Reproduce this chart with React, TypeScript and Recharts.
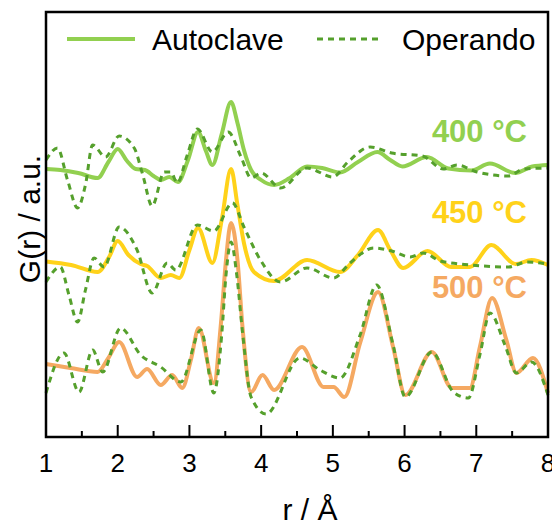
import { LineChart, Line, XAxis, YAxis } from "recharts";

// G(r) traces, arbitrary units; each pair shares a vertical offset
const r400Auto = [1.0, 1.2, 1.45, 1.72, 1.87, 2.0, 2.13, 2.25, 2.38, 2.5, 2.6, 2.72, 2.84, 2.98, 3.12, 3.23, 3.32, 3.45, 3.58, 3.67, 3.76, 3.86, 4.0, 4.18, 4.4, 4.64, 4.85, 5.1, 5.35, 5.62, 5.8, 5.97, 6.31, 6.61, 6.93, 7.19, 7.54, 7.78, 8.0];
const g400Auto = [0.1, 0.0, -0.3, -0.8, 0.8, 2.1, 0.9, 0.1, 0.0, -0.6, -1.0, -0.7, -1.2, 1.0, 3.8, 1.9, 0.5, 3.6, 6.8, 4.7, 2.0, 0.0, -1.0, -1.5, -0.8, 0.35, 0.2, -0.25, 0.8, 1.8, 1.0, 0.35, 1.3, 0.15, -0.05, 0.65, -0.3, 0.35, 0.5];

const r400Oper = [1.0, 1.16, 1.3, 1.44, 1.55, 1.65, 1.83, 2.02, 2.23, 2.35, 2.48, 2.65, 2.74, 2.83, 2.97, 3.11, 3.32, 3.54, 3.72, 3.86, 4.0, 4.27, 4.64, 5.0, 5.21, 5.52, 5.82, 6.25, 6.54, 6.73, 7.01, 7.45, 7.66, 8.0];
const g400Oper = [1.0, 2.2, -1.0, -3.8, -1.5, 2.5, 1.3, 3.4, 2.2, -0.5, -3.6, -0.2, -0.2, -1.3, 1.5, 4.1, 1.8, 3.8, 1.3, -0.8, -0.3, -1.8, 0.2, -0.7, 0.8, 2.3, 1.7, 1.4, 0.1, 0.5, -0.2, -0.6, 0.1, 0.2];

const r450Auto = [1.0, 1.35, 1.72, 1.88, 2.0, 2.15, 2.32, 2.41, 2.6, 2.74, 2.86, 3.0, 3.12, 3.32, 3.45, 3.58, 3.67, 3.76, 3.9, 4.18, 4.64, 5.1, 5.35, 5.63, 5.8, 5.98, 6.32, 6.65, 6.91, 7.21, 7.55, 7.77, 8.0];
const g450Auto = [0.35, 0.0, -0.7, 0.8, 2.4, 1.0, 0.1, -0.1, -1.3, -1.0, -1.3, 1.5, 3.7, 0.2, 4.5, 9.6, 6.0, 2.2, -0.7, -1.6, 0.5, -0.7, 1.0, 3.5, 1.5, -0.3, 1.4, -0.2, -0.2, 2.0, 0.1, 0.5, 0.0];

const r450Oper = [1.0, 1.2, 1.32, 1.44, 1.55, 1.67, 1.81, 2.02, 2.27, 2.48, 2.69, 2.81, 3.11, 3.34, 3.6, 3.76, 3.99, 4.27, 4.64, 5.01, 5.24, 5.57, 5.82, 6.08, 6.26, 6.5, 6.93, 7.45, 7.7, 8.0];
const g450Oper = [-1.7, -0.2, -3.0, -5.7, -2.5, 0.7, -0.2, 3.8, 1.5, -2.8, 0.2, -0.5, 4.0, 3.4, 6.2, 3.8, 0.5, -1.7, -0.3, -1.3, 0.2, 1.7, 1.4, 0.8, 1.2, 0.4, 0.0, -0.2, 0.3, 0.1];

const r500Auto = [1.0, 1.34, 1.72, 1.87, 2.02, 2.27, 2.41, 2.6, 2.76, 2.9, 3.02, 3.13, 3.34, 3.44, 3.51, 3.58, 3.67, 3.74, 3.86, 4.02, 4.18, 4.57, 4.87, 5.01, 5.16, 5.38, 5.63, 5.84, 6.01, 6.38, 6.66, 6.91, 7.05, 7.22, 7.42, 7.56, 7.79, 8.0];
const g500Auto = [0.6, 0.2, -0.2, 1.2, 2.8, -0.7, 0.1, -1.5, -0.5, -1.8, 1.0, 4.2, -1.3, 4.7, 11.0, 14.7, 11.0, 4.3, -2.2, -0.5, -2.0, 2.3, -1.7, -1.7, -2.7, 2.7, 7.8, 2.3, -2.5, 1.8, -1.8, -1.8, 2.3, 7.2, 3.0, -0.3, 1.2, -2.3];

const r500Oper = [1.0, 1.25, 1.46, 1.65, 1.79, 2.04, 2.32, 2.6, 2.88, 3.16, 3.34, 3.45, 3.51, 3.58, 3.66, 3.74, 3.86, 4.07, 4.54, 4.82, 5.1, 5.38, 5.61, 5.84, 6.01, 6.38, 6.68, 6.89, 7.05, 7.19, 7.4, 7.56, 7.77, 8.0];
const g500Oper = [-2.3, 1.7, -2.2, 2.0, -0.2, 4.2, 1.5, 0.3, -1.2, 4.0, -2.3, 3.5, 9.5, 12.8, 9.5, 3.8, -2.7, -4.4, 1.2, 0.0, -0.8, 3.5, 8.5, 2.5, -2.7, 1.8, -2.2, -2.8, 1.5, 5.7, 2.5, -0.3, 0.8, -2.5];

const offset400 = 26.7;
const offset450 = 17.2;
const offset500 = 6.7;

const xTicks = [1, 1.5, 2, 2.5, 3, 3.5, 4, 4.5, 5, 5.5, 6, 6.5, 7, 7.5, 8];
const tempLabels = ["400 °C", "450 °C", "500 °C"];
const legendNames = ["Autoclave", "Operando"];

const C400 = "#92d050";
const C450 = "#ffd21a";
const C500 = "#f5a962";
const COPER = "#55a02c";
const FONT = "'Liberation Sans', Arial, sans-serif";

function pts(r: number[], g: number[], offset: number) {
  return r.map((x, i) => ({ r: x, g: g[i] + offset }));
}

function RTick(props: any) {
  const { x, y, payload } = props;
  const major = Number.isInteger(payload.value);
  return (
    <g>
      <line x1={x} x2={x} y1={y} y2={y - (major ? 12 : 6)} stroke="#000" strokeWidth={2} />
      {major && (
        <text x={x} y={y + 35} textAnchor="middle" fontSize={26} fontFamily={FONT} fill="#000">
          {payload.value}
        </text>
      )}
    </g>
  );
}

export default function App() {
  return (
    <div style={{ position: "relative", width: 552, height: 517 }}>
      <LineChart width={552} height={517} margin={{ top: 4, right: 12, left: 38, bottom: 0 }}>
        <XAxis
          dataKey="r"
          type="number"
          domain={[1, 8]}
          ticks={xTicks}
          interval={0}
          tickSize={0}
          tickMargin={0}
          tickLine={false}
          axisLine={false}
          height={88}
          tick={<RTick />}
        />
        <YAxis type="number" domain={[0, 42.5]} hide />
        <Line data={pts(r400Auto, g400Auto, offset400)} dataKey="g" type="monotone" stroke={C400} strokeWidth={4} dot={false} isAnimationActive={false} />
        <Line data={pts(r400Oper, g400Oper, offset400)} dataKey="g" type="monotone" stroke={COPER} strokeWidth={3} strokeDasharray="6 5" dot={false} isAnimationActive={false} />
        <Line data={pts(r450Auto, g450Auto, offset450)} dataKey="g" type="monotone" stroke={C450} strokeWidth={4} dot={false} isAnimationActive={false} />
        <Line data={pts(r450Oper, g450Oper, offset450)} dataKey="g" type="monotone" stroke={COPER} strokeWidth={3} strokeDasharray="6 5" dot={false} isAnimationActive={false} />
        <Line data={pts(r500Auto, g500Auto, offset500)} dataKey="g" type="monotone" stroke={C500} strokeWidth={4} dot={false} isAnimationActive={false} />
        <Line data={pts(r500Oper, g500Oper, offset500)} dataKey="g" type="monotone" stroke={COPER} strokeWidth={3} strokeDasharray="6 5" dot={false} isAnimationActive={false} />
      </LineChart>
      <svg width={552} height={517} style={{ position: "absolute", left: 0, top: 0, pointerEvents: "none" }} fontFamily={FONT}>
        <rect x={38} y={4} width={502} height={425} fill="none" stroke="#000" strokeWidth={2.5} />
        <line x1={59} x2={127} y1={31} y2={31} stroke={C400} strokeWidth={4} />
        <text x={144} y={42} fontSize={30} fill="#000">{legendNames[0]}</text>
        <line x1={309} x2={375} y1={31} y2={31} stroke={COPER} strokeWidth={3} strokeDasharray="6 5" />
        <text x={394} y={42} fontSize={30} fill="#000">{legendNames[1]}</text>
        <text x={519} y={134} fontSize={31} fontWeight="bold" textAnchor="end" fill={C400}>{tempLabels[0]}</text>
        <text x={519} y={215} fontSize={31} fontWeight="bold" textAnchor="end" fill={C450}>{tempLabels[1]}</text>
        <text x={519} y={290} fontSize={31} fontWeight="bold" textAnchor="end" fill={C500}>{tempLabels[2]}</text>
        <text x={302} y={512} fontSize={30} textAnchor="middle" fill="#000">r / Å</text>
        <text transform="translate(32, 211) rotate(-90)" fontSize={30} textAnchor="middle" fill="#000">G(r) / a.u.</text>
      </svg>
    </div>
  );
}
